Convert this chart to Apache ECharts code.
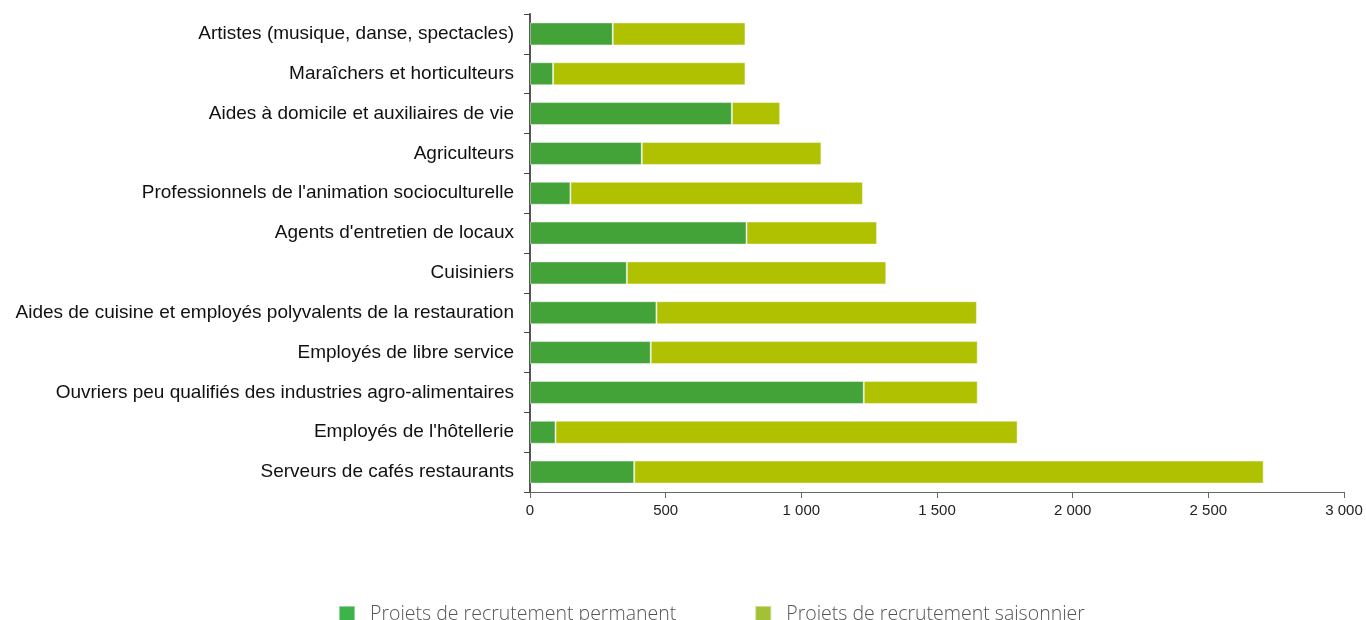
<!DOCTYPE html>
<html>
<head>
<meta charset="utf-8">
<script src="https://cdn.jsdelivr.net/npm/echarts@6/dist/echarts.min.js"></script>
<style>html,body{margin:0;padding:0;background:#fff}#c{width:1366px;height:620px}</style>
</head>
<body>
<div id="c"></div>
<script>
const categories = [
  "Artistes (musique, danse, spectacles)",
  "Maraîchers et horticulteurs",
  "Aides à domicile et auxiliaires de vie",
  "Agriculteurs",
  "Professionnels de l'animation socioculturelle",
  "Agents d'entretien de locaux",
  "Cuisiniers",
  "Aides de cuisine et employés polyvalents de la restauration",
  "Employés de libre service",
  "Ouvriers peu qualifiés des industries agro-alimentaires",
  "Employés de l'hôtellerie",
  "Serveurs de cafés restaurants"
];
const permanent = [305, 85, 744, 412, 149, 798, 357, 466, 445, 1230, 94, 384];
const totals    = [794, 794, 922, 1074, 1227, 1279, 1313, 1647, 1650, 1650, 1797, 2704];
const seasonal = totals.map((t, i) => t - permanent[i]);
const seriesNames = ["Projets de recrutement permanent", "Projets de recrutement saisonnier"];

const chart = echarts.init(document.getElementById('c'));
chart.setOption({
  animation: false,
  grid: { left: 530, right: 22, top: 14, bottom: 128, containLabel: false },
  legend: {
    bottom: -9,
    left: 333,
    itemWidth: 16,
    itemHeight: 16,
    itemGap: 78,
    icon: 'rect',
    textStyle: { fontFamily: 'Open Sans', fontWeight: 300, fontSize: 19.5, color: '#555', padding: [0, 0, 0, 10] },
    data: [
      { name: seriesNames[0], itemStyle: { color: '#3cb44b' } },
      { name: seriesNames[1], itemStyle: { color: '#a3c037' } }
    ]
  },
  xAxis: {
    type: 'value',
    min: 0, max: 3000, interval: 500,
    axisLine: { show: true, lineStyle: { color: '#666', width: 1 } },
    axisTick: { show: true, length: 6, lineStyle: { color: '#666' } },
    splitLine: { show: false },
    axisLabel: {
      fontFamily: 'Liberation Sans', fontSize: 15, color: '#222', margin: 11,
      formatter: v => v >= 1000 ? Math.floor(v/1000) + ' ' + String(v % 1000).padStart(3, '0') : String(v)
    }
  },
  yAxis: {
    type: 'category',
    inverse: true,
    data: categories,
    axisLine: { show: true, lineStyle: { color: '#555', width: 2 } },
    axisTick: { show: true, length: 6, lineStyle: { color: '#444' } },
    axisLabel: { fontFamily: 'Liberation Sans', fontSize: 19, color: '#111', margin: 16 }
  },
  series: [
    {
      name: seriesNames[0], type: 'bar', stack: 't', data: permanent, barWidth: 23,
      itemStyle: { color: '#43a338', borderColor: 'rgba(255,255,255,0.45)', borderWidth: 1 }
    },
    {
      name: seriesNames[1], type: 'bar', stack: 't', data: seasonal, barWidth: 23,
      itemStyle: { color: '#afc100', borderColor: 'rgba(255,255,255,0.45)', borderWidth: 1 }
    }
  ]
});
</script>
</body>
</html>
